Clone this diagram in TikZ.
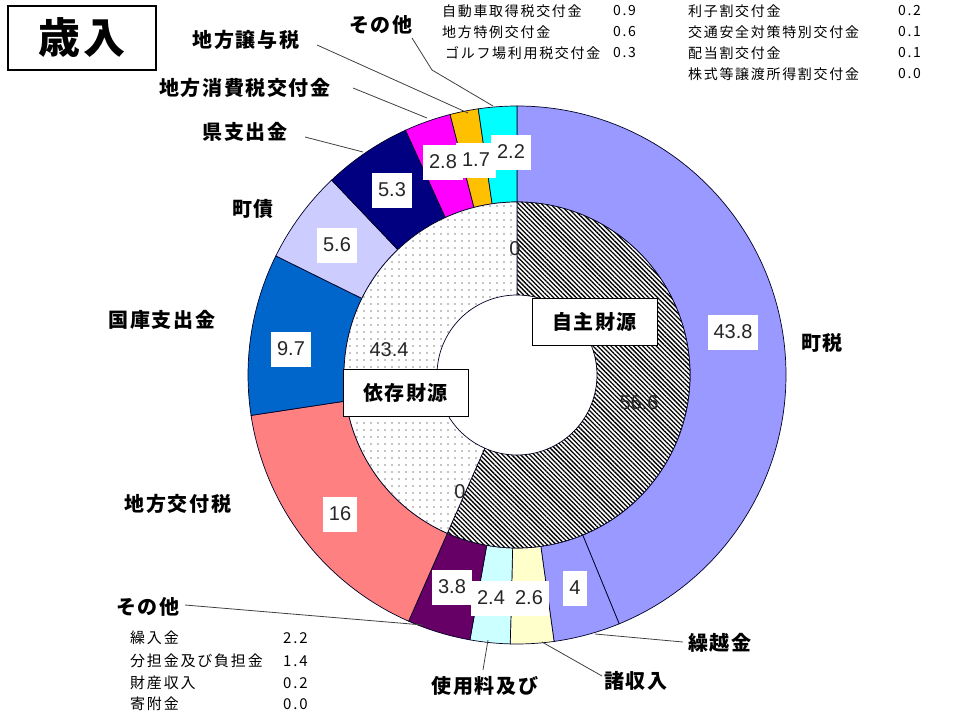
\documentclass[tikz,border=0pt]{standalone}
\usepackage{fontspec}
\setmainfont{Liberation Sans}
\newfontfamily\jp{Noto Sans CJK JP}
\newfontfamily\jpsp{Noto Sans CJK JP}[LetterSpace=8]
\newfontfamily\jpl{Noto Sans CJK JP}[LetterSpace=12]
\usetikzlibrary{calc,patterns.meta}
\definecolor{cTown}{HTML}{9999FF}
\definecolor{cKuri}{HTML}{9999FF}
\definecolor{cSho}{HTML}{FFFFCC}
\definecolor{cShiyo}{HTML}{CCFFFF}
\definecolor{cOthA}{HTML}{660066}
\definecolor{cKofu}{HTML}{FF8080}
\definecolor{cKoko}{HTML}{0066CC}
\definecolor{cSai}{HTML}{CCCCFF}
\definecolor{cKen}{HTML}{000080}
\definecolor{cShohi}{HTML}{FF00FF}
\definecolor{cJoyo}{HTML}{FFC000}
\definecolor{cOthB}{HTML}{00FFFF}
\newcommand{\ringseg}[5]{%
  \path[#5] ($(O)+(#1:#4)$) arc[start angle=#1, end angle=#2, radius=#4]
    -- ($(O)+(#2:#3)$) arc[start angle=#2, end angle=#1, radius=#3] -- cycle;}
\tikzset{
  seg/.style={draw=black!85!blue, line width=0.7pt},
  lbl/.style={font=\jpsp\bfseries\fontsize{20}{24}\selectfont, inner sep=0pt},
  val/.style={fill=white, font=\fontsize{20}{24}\selectfont, inner xsep=6pt,
              inner ysep=0pt, minimum height=35pt, text=black!85},
  bare/.style={font=\fontsize{20}{24}\selectfont, inner sep=0pt, text=black!85},
  lst/.style={font=\jpl\fontsize{14}{16}\selectfont, anchor=west, inner sep=0pt},
  lstb/.style={font=\jpl\fontsize{15}{17}\selectfont, anchor=west, inner sep=0pt},
  lead/.style={draw=black!75, line width=0.8pt},
  srcbox/.style={draw=black, line width=1pt, fill=white, minimum width=125pt,
                 minimum height=47pt, font=\jpsp\bfseries\fontsize{20}{24}\selectfont},
}
\begin{document}
\begin{tikzpicture}[x=1pt, y=-1pt]
\useasboundingbox (0,0) rectangle (961,717);
\coordinate (O) at (517,375);
% outer ring
\foreach \a/\b/\c in {90/-67.68/cTown, -67.68/-82.08/cKuri, -82.08/-91.44/cSho,
  -91.44/-100.08/cShiyo, -100.08/-113.76/cOthA, -113.76/-171.36/cKofu,
  -171.36/-206.28/cKoko, -206.28/-226.44/cSai, -226.44/-245.52/cKen,
  -245.52/-255.6/cShohi, -255.6/-261.72/cJoyo, -261.72/-270/cOthB}
  {\ringseg{\a}{\b}{173pt}{269pt}{seg, fill=\c}}
% inner ring
\ringseg{90}{-113.76}{80pt}{173pt}{seg, fill=white,
   postaction={pattern={Lines[angle=-45,distance=3.2pt,line width=1.3pt]}}}
\ringseg{-113.76}{-270}{80pt}{173pt}{seg, fill=white,
   postaction={pattern={Dots[distance=7pt,radius=0.7pt]}}}
% value boxes
\node[val] (v1) at (733,332) {43.8};
\node[val] (v2) at (575,588) {4};
\node[val] (v4) at (491,598) {2.4};
\node[val] (v3) at (529,598) {2.6};
\node[val] (v5) at (452,587) {3.8};
\node[val] (v6) at (340,514) {16};
\node[val] (v7) at (291,349) {9.7};
\node[val] (v8) at (337,245) {5.6};
\node[val] (v9) at (392,190) {5.3};
\node[val] (v10) at (443,162) {2.8};
\node[val] (v11) at (476,160) {1.7};
\node[val] (v12) at (511,152) {2.2};
% inner values
\node[bare] (i1) at (639,403) {56.6};
\node[bare] (i2) at (389,350) {43.4};
\node[bare] (z1) at (515,249) {0};
\node[bare] (z2) at (460,492) {0};
\node[srcbox] (jishu) at (594.5,321.5) {自主財源};
\node[srcbox] (izon) at (405.5,393) {依存財源};
% title
\node[draw, line width=1.2pt, minimum width=148pt, minimum height=64pt,
      font=\jpsp\bfseries\fontsize{42}{48}\selectfont] (title) at (82,38) {歳入};
% outer labels
\node[lbl] (l1) at (822,343) {町税};
\node[lbl] (l2) at (720,643) {繰越金};
\node[lbl] (l3) at (636,681) {諸収入};
\node[lbl] (l4) at (485,686) {使用料及び};
\node[lbl] (l5) at (148,607) {その他};
\node[lbl] (l6) at (178,504) {地方交付税};
\node[lbl] (l7) at (162,320) {国庫支出金};
\node[lbl] (l8) at (253,209) {町債};
\node[lbl] (l9) at (245,132) {県支出金};
\node[lbl] (l10) at (245,88) {地方消費税交付金};
\node[lbl] (l11) at (246,40) {地方譲与税};
\node[lbl] (l12) at (381,25) {その他};
% leader lines
\coordinate (a12) at (412,38); \coordinate (b12) at (432,70); \coordinate (c12) at (493,106);
\draw[lead] (a12) -- (b12) -- (c12);
\coordinate (a11) at (317,45); \coordinate (c11) at (468,113);
\draw[lead] (a11) -- (c11);
\coordinate (a10) at (353,88); \coordinate (c10) at (427,118);
\draw[lead] (a10) -- (c10);
\coordinate (a9) at (305,137); \coordinate (c9) at (363,152);
\draw[lead] (a9) -- (c9);
\coordinate (a5) at (185,605); \coordinate (c5) at (423,625);
\draw[lead] (a5) -- (c5);
\coordinate (a4) at (483,670); \coordinate (c4) at (488,640);
\draw[lead] (a4) -- (c4);
\coordinate (a3) at (602,676); \coordinate (c3) at (542,642);
\draw[lead] (a3) -- (c3);
\coordinate (a2) at (683,642); \coordinate (c2) at (595,634);
\draw[lead] (a2) -- (c2);
% top list
\node[lst] (t1) at (442,11) {自動車取得税交付金};
\node[lst] (t2) at (442,32) {地方特例交付金};
\node[lst] (t3) at (445,53) {ゴルフ場利用税交付金};
\node[lst] (t1n) at (613,11) {0.9};
\node[lst] (t2n) at (613,32) {0.6};
\node[lst] (t3n) at (613,53) {0.3};
\node[lst] (u1) at (688,11) {利子割交付金};
\node[lst] (u2) at (688,32) {交通安全対策特別交付金};
\node[lst] (u3) at (688,53) {配当割交付金};
\node[lst] (u4) at (688,74) {株式等譲渡所得割交付金};
\node[lst] (u1n) at (898,11) {0.2};
\node[lst] (u2n) at (898,32) {0.1};
\node[lst] (u3n) at (898,53) {0.1};
\node[lst] (u4n) at (898,74) {0.0};
% bottom list
\node[lstb] (b1) at (130,638) {繰入金};
\node[lstb] (b2) at (130,661) {分担金及び負担金};
\node[lstb] (b3) at (130,683) {財産収入};
\node[lstb] (b4) at (130,704) {寄附金};
\node[lstb] (b1n) at (283,638) {2.2};
\node[lstb] (b2n) at (283,661) {1.4};
\node[lstb] (b3n) at (283,683) {0.2};
\node[lstb] (b4n) at (283,704) {0.0};
\end{tikzpicture}
\end{document}
